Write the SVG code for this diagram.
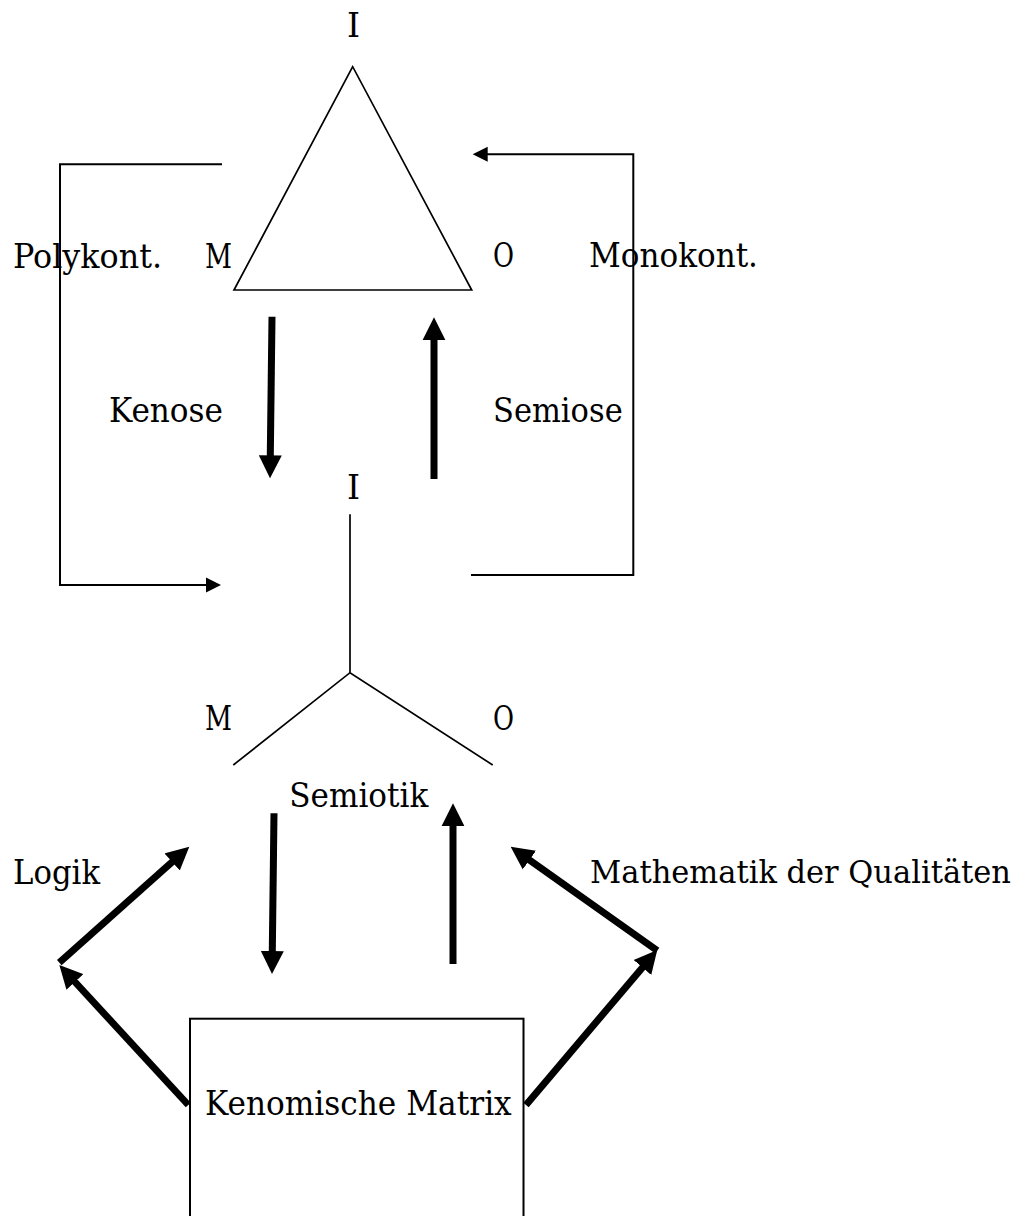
<svg xmlns="http://www.w3.org/2000/svg" width="1019" height="1216" viewBox="0 0 1019 1216">
<style>
text{font-family:"DejaVu Serif","Liberation Serif",serif;font-size:33px;fill:#000}
.thin{fill:none;stroke:#000;stroke-width:1.7}
.br{fill:none;stroke:#000;stroke-width:2}
.thick{fill:none;stroke:#000;stroke-width:7}
</style>
<defs>
<marker id="hk" markerUnits="userSpaceOnUse" viewBox="0 -12 24 24" refX="8" refY="0" markerWidth="24" markerHeight="24" orient="auto"><path d="M0,-11.5 L23,0 L0,11.5 Z" fill="#000"/></marker>
<marker id="hs" markerUnits="userSpaceOnUse" viewBox="0 -8 16 16" refX="5" refY="0" markerWidth="16" markerHeight="16" orient="auto"><path d="M0,-7.5 L15,0 L0,7.5 Z" fill="#000"/></marker>
</defs>
<g id="triangle">
<polygon class="thin" points="352.7,66.7 234,290 471.7,290"/>
<text x="353.5" y="37" text-anchor="middle">I</text>
<text x="205" y="268" textLength="27" lengthAdjust="spacingAndGlyphs">M</text>
<text x="493" y="267" textLength="21" lengthAdjust="spacingAndGlyphs">O</text>
</g>
<g id="tripod">
<polyline class="thin" points="350,514.3 350,672.7"/>
<polyline class="thin" points="233.3,765 350,672.7 492.7,765"/>
<text x="353.5" y="499" text-anchor="middle">I</text>
<text x="205" y="730" textLength="27" lengthAdjust="spacingAndGlyphs">M</text>
<text x="493" y="730" textLength="21" lengthAdjust="spacingAndGlyphs">O</text>
</g>
<g id="matrix">
<rect class="br" x="190" y="1018.7" width="333.5" height="220"/>
<text x="205" y="1115" textLength="306.7" lengthAdjust="spacingAndGlyphs">Kenomische Matrix</text>
</g>
<g id="labels">
<text x="13" y="268" textLength="149" lengthAdjust="spacingAndGlyphs">Polykont.</text>
<text x="589" y="267" textLength="169" lengthAdjust="spacingAndGlyphs">Monokont.</text>
<text x="109" y="422" textLength="114" lengthAdjust="spacingAndGlyphs">Kenose</text>
<text x="493" y="422" textLength="129.7" lengthAdjust="spacingAndGlyphs">Semiose</text>
<text x="289.3" y="806.7" textLength="139" lengthAdjust="spacingAndGlyphs">Semiotik</text>
<text x="13" y="884" textLength="87" lengthAdjust="spacingAndGlyphs">Logik</text>
<text x="590" y="883" style="font-size:31px" textLength="421" lengthAdjust="spacingAndGlyphs">Mathematik der Qualitäten</text>
</g>
<g id="connectors">
<polyline class="br" points="222,164.3 60,164.3 60,585 211,585" marker-end="url(#hs)"/>
<polyline class="br" points="471,575 633.3,575 633.3,154.3 482.7,154.3" marker-end="url(#hs)"/>
<line class="thick" x1="272" y1="316.7" x2="270.2" y2="463.3" marker-end="url(#hk)"/>
<line class="thick" x1="434" y1="479" x2="434" y2="332.3" marker-end="url(#hk)"/>
<line class="thick" x1="274" y1="813.3" x2="272.2" y2="959" marker-end="url(#hk)"/>
<line class="thick" x1="453" y1="964" x2="453" y2="818.3" marker-end="url(#hk)"/>
<line class="thick" x1="59.3" y1="962.7" x2="178.1" y2="856.7" marker-end="url(#hk)"/>
<line class="thick" x1="188.3" y1="1105" x2="69.5" y2="976" marker-end="url(#hk)"/>
<line class="thick" x1="657.3" y1="950.7" x2="522.9" y2="855.4" marker-end="url(#hk)"/>
<line class="thick" x1="526" y1="1105" x2="647.6" y2="961.4" marker-end="url(#hk)"/>
</g>
</svg>
